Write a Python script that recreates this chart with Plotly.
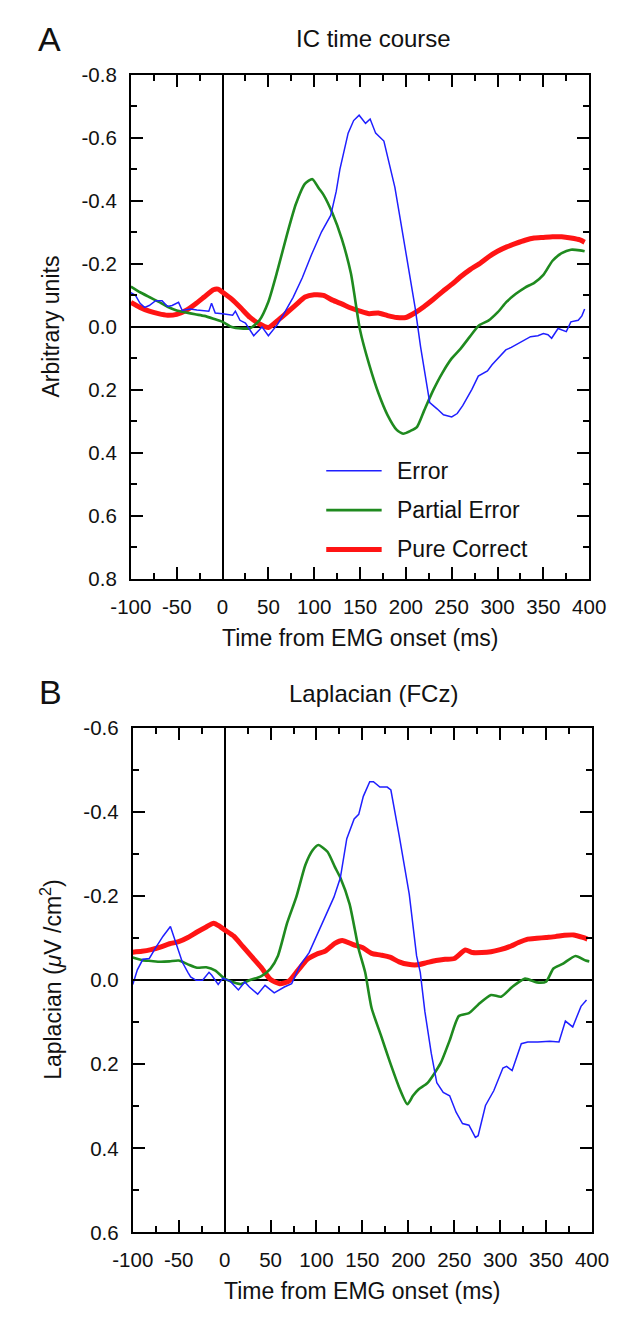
import plotly.graph_objects as go

W, H = 625, 1318

# ---------------- data ----------------
series_names = ["Error", "Partial Error", "Pure Correct"]
series_colors = ["#1f1fff", "#1f8a1f", "#ff1414"]
series_widths = [1.5, 2.6, 5.0]

# Panel A: IC time course
a_err_t = [-100, -95, -90, -85, -80, -73, -66, -60, -55, -48, -44, -35, -28, -20, -15, -12, -8, 0, 6, 11, 14, 19, 25, 34, 40, 43, 50, 55, 60, 67, 77, 87, 97, 108, 118, 124, 128, 137, 143, 149, 156, 161, 167, 176, 182, 188, 194, 200, 205, 210, 216, 221, 226, 234, 241, 250, 256, 262, 272, 279, 285, 289, 294, 299, 309, 315, 323, 330, 336, 344, 350, 355, 359, 366, 371, 375, 380, 388, 392, 395]
a_err_v = [-0.109, -0.10, -0.075, -0.062, -0.068, -0.083, -0.083, -0.065, -0.068, -0.078, -0.052, -0.057, -0.054, -0.051, -0.050, -0.075, -0.044, -0.042, -0.040, -0.037, -0.050, -0.021, -0.012, 0.028, 0.010, 0.0, 0.028, 0.010, -0.008, -0.042, -0.094, -0.156, -0.229, -0.302, -0.354, -0.43, -0.50, -0.615, -0.655, -0.672, -0.646, -0.660, -0.615, -0.590, -0.52, -0.443, -0.34, -0.24, -0.15, -0.0625, 0.0625, 0.146, 0.240, 0.260, 0.279, 0.286, 0.275, 0.25, 0.198, 0.156, 0.145, 0.140, 0.12, 0.104, 0.073, 0.065, 0.052, 0.04, 0.031, 0.028, 0.021, 0.025, 0.036, 0.005, 0.012, 0.015, -0.016, -0.021, -0.035, -0.057]

a_par_t = [-100, -90, -80, -70, -60, -50, -40, -30, -20, -10, 0, 10, 20, 30, 40, 50, 60, 70, 80, 90, 98, 105, 110, 120, 130, 140, 150, 160, 170, 180, 190, 197, 205, 212, 220, 230, 240, 250, 260, 270, 280, 290, 300, 310, 320, 330, 340, 350, 360, 370, 380, 390, 395]
a_par_v = [-0.128, -0.110, -0.095, -0.080, -0.064, -0.052, -0.046, -0.040, -0.035, -0.026, -0.016, 0.000, 0.005, 0.004, -0.02, -0.08, -0.18, -0.29, -0.39, -0.455, -0.469, -0.44, -0.42, -0.36, -0.28, -0.17, 0.01, 0.12, 0.21, 0.28, 0.327, 0.339, 0.33, 0.318, 0.265, 0.20, 0.145, 0.10, 0.068, 0.03, -0.005, -0.02, -0.046, -0.08, -0.105, -0.125, -0.14, -0.165, -0.21, -0.234, -0.245, -0.243, -0.24]

a_cor_t = [-100, -90, -80, -70, -60, -50, -40, -30, -20, -10, -5, 0, 10, 20, 30, 40, 50, 60, 70, 80, 90, 100, 110, 120, 130, 140, 150, 160, 170, 180, 190, 200, 210, 220, 230, 240, 250, 260, 270, 280, 290, 300, 310, 320, 330, 340, 350, 360, 370, 380, 390, 395]
a_cor_v = [-0.078, -0.062, -0.050, -0.042, -0.037, -0.040, -0.052, -0.072, -0.095, -0.118, -0.120, -0.110, -0.088, -0.060, -0.030, -0.010, 0.002, -0.020, -0.045, -0.070, -0.095, -0.102, -0.100, -0.085, -0.073, -0.060, -0.050, -0.042, -0.044, -0.036, -0.030, -0.030, -0.045, -0.065, -0.088, -0.112, -0.135, -0.160, -0.182, -0.200, -0.222, -0.240, -0.254, -0.265, -0.275, -0.282, -0.284, -0.286, -0.286, -0.282, -0.276, -0.269]

# Panel B: Laplacian (FCz)
b_err_t = [-100, -95, -89, -82, -75, -67, -59, -53, -46, -40, -37, -31, -24, -17, -14, -7, -2, 6, 15, 22, 27, 36, 44, 54, 65, 73, 82, 92, 105, 119, 126, 133, 141, 146, 151, 158, 162, 169, 177, 181, 190, 201, 209, 213, 218, 225, 231, 238, 245, 252, 259, 266, 273, 276, 284, 293, 303, 307, 313, 323, 330, 341, 354, 364, 371, 379, 388, 394]
b_err_v = [0.01, -0.025, -0.05, -0.052, -0.078, -0.105, -0.128, -0.089, -0.043, -0.019, -0.008, 0.0, 0.0, -0.019, -0.012, 0.01, -0.005, 0.002, 0.023, 0.004, 0.016, 0.033, 0.012, 0.030, 0.016, 0.008, -0.035, -0.066, -0.128, -0.198, -0.244, -0.337, -0.384, -0.395, -0.438, -0.473, -0.473, -0.460, -0.460, -0.453, -0.345, -0.205, -0.058, -0.019, 0.074, 0.174, 0.244, 0.267, 0.275, 0.314, 0.341, 0.345, 0.374, 0.37, 0.298, 0.263, 0.209, 0.205, 0.215, 0.151, 0.147, 0.147, 0.145, 0.147, 0.097, 0.111, 0.062, 0.047]

b_par_t = [-100, -90, -80, -70, -60, -50, -40, -30, -20, -10, 0, 10, 17, 27, 40, 50, 58, 68, 78, 88, 96, 102, 112, 120, 126, 136, 146, 153, 160, 170, 180, 190, 199, 205, 211, 221, 235, 245, 255, 266, 276, 290, 301, 313, 327, 340, 350, 358, 368, 382, 393, 397]
b_par_v = [-0.054, -0.048, -0.046, -0.044, -0.045, -0.047, -0.038, -0.030, -0.031, -0.023, -0.004, 0.005, 0.009, 0.0, -0.010, -0.028, -0.058, -0.136, -0.198, -0.275, -0.31, -0.322, -0.306, -0.27, -0.244, -0.182, -0.074, -0.019, 0.066, 0.13, 0.195, 0.255, 0.295, 0.275, 0.26, 0.244, 0.198, 0.143, 0.085, 0.078, 0.058, 0.035, 0.039, 0.016, -0.004, 0.005, 0.003, -0.028, -0.039, -0.058, -0.047, -0.045]

b_cor_t = [-100, -90, -80, -70, -60, -50, -40, -30, -20, -12, -5, 0, 10, 20, 30, 40, 50, 60, 70, 80, 90, 100, 110, 120, 128, 140, 150, 160, 170, 180, 190, 200, 210, 220, 230, 240, 250, 262, 270, 280, 290, 300, 310, 320, 330, 340, 350, 360, 370, 380, 390, 395]
b_cor_v = [-0.067, -0.069, -0.073, -0.079, -0.087, -0.092, -0.102, -0.115, -0.127, -0.136, -0.128, -0.120, -0.105, -0.080, -0.055, -0.030, -0.002, 0.008, 0.002, -0.024, -0.050, -0.062, -0.070, -0.088, -0.095, -0.085, -0.078, -0.064, -0.060, -0.055, -0.044, -0.038, -0.037, -0.042, -0.047, -0.050, -0.052, -0.072, -0.066, -0.066, -0.068, -0.073, -0.080, -0.090, -0.098, -0.100, -0.102, -0.104, -0.107, -0.108, -0.102, -0.098]

x_tickvals = [-100, -50, 0, 50, 100, 150, 200, 250, 300, 350, 400]
x_ticktext = ["-100", "-50", "0", "50", "100", "150", "200", "250", "300", "350", "400"]
a_y_tickvals = [-0.8, -0.6, -0.4, -0.2, 0.0, 0.2, 0.4, 0.6, 0.8]
a_y_ticktext = ["-0.8", "-0.6", "-0.4", "-0.2", "0.0", "0.2", "0.4", "0.6", "0.8"]
b_y_tickvals = [-0.6, -0.4, -0.2, 0.0, 0.2, 0.4, 0.6]
b_y_ticktext = ["-0.6", "-0.4", "-0.2", "0.0", "0.2", "0.4", "0.6"]

# ---------------- figure ----------------
FONT = "Liberation Sans, Arial, sans-serif"


def pxx(x):
    return x / W


def pxy(y):
    return 1 - y / H


fig = go.Figure()

panels = [
    ("x", "y", [(a_err_t, a_err_v), (a_par_t, a_par_v), (a_cor_t, a_cor_v)]),
    ("x2", "y2", [(b_err_t, b_err_v), (b_par_t, b_par_v), (b_cor_t, b_cor_v)]),
]
for xa, ya, data in panels:
    for idx in [2, 1, 0]:
        t, v = data[idx]
        fig.add_trace(go.Scatter(
            x=t, y=v, xaxis=xa, yaxis=ya, mode="lines",
            name=series_names[idx], showlegend=False,
            line=dict(color=series_colors[idx], width=series_widths[idx],
                      shape="linear" if idx == 0 else "spline",
                      smoothing=0.6),
        ))

common_axis = dict(
    showline=True, linecolor="black", linewidth=2, mirror="ticks",
    ticks="inside", ticklen=12, tickwidth=2, tickcolor="black",
    showgrid=False, zeroline=True, zerolinecolor="black", zerolinewidth=1.6,
    tickfont=dict(family=FONT, size=20.5, color="#111"),
    ticklabelstandoff=8,
)

xa_common = dict(common_axis, range=[-100, 400], tickvals=x_tickvals, ticktext=x_ticktext,
                 minor=dict(ticks="inside", ticklen=6, tickwidth=2, tickcolor="black",
                            tick0=-100, dtick=25, showgrid=False))

fig.update_layout(
    width=W, height=H, margin=dict(l=0, r=0, t=0, b=0),
    paper_bgcolor="white", plot_bgcolor="white", showlegend=False,
    xaxis=dict(xa_common, domain=[pxx(117), pxx(605)], anchor="y"),
    yaxis=dict(common_axis, domain=[pxy(577), pxy(64)], anchor="x", range=[0.8, -0.8],
               tickvals=a_y_tickvals, ticktext=a_y_ticktext,
               minor=dict(ticks="inside", ticklen=6, tickwidth=2, tickcolor="black",
                          tick0=-0.8, dtick=0.1, showgrid=False)),
    xaxis2=dict(xa_common, domain=[pxx(119), pxx(608)], anchor="y2"),
    yaxis2=dict(common_axis, domain=[pxy(1242), pxy(729)], anchor="x2", range=[0.6, -0.6],
                tickvals=b_y_tickvals, ticktext=b_y_ticktext,
                minor=dict(ticks="inside", ticklen=6, tickwidth=2, tickcolor="black",
                           tick0=-0.6, dtick=0.1, showgrid=False)),
)

ann = []


def text(x, y, s, size, xanchor="center", angle=0):
    ann.append(dict(x=pxx(x), y=pxy(y), xref="paper", yref="paper", text=s,
                    showarrow=False, xanchor=xanchor, yanchor="middle", textangle=angle,
                    font=dict(family=FONT, size=size, color="#111")))


text(30, 27, "A", 34)
text(375, 27, "IC time course", 24)
text(361, 637, "Time from EMG onset (ms)", 23)
text(32, 320, "Arbitrary units", 23, angle=-90)

text(31, 692, "B", 34)
text(375, 694, "Laplacian (FCz)", 24)
text(363, 1302, "Time from EMG onset (ms)", 23)
text(32, 985, "Laplacian (<i>μ</i>V /cm<sup>2</sup>)", 23, angle=-90)

# legend (panel A)
shapes = []
leg_y = [467, 507, 547]
for i, name in enumerate(series_names):
    shapes.append(dict(type="line", xref="paper", yref="paper",
                       x0=pxx(325), x1=pxx(384), y0=pxy(leg_y[i]), y1=pxy(leg_y[i]),
                       line=dict(color=series_colors[i], width=series_widths[i])))
    text(398, leg_y[i], name, 23, xanchor="left")

fig.update_layout(annotations=ann, shapes=shapes)

fig.write_html("out.html")
